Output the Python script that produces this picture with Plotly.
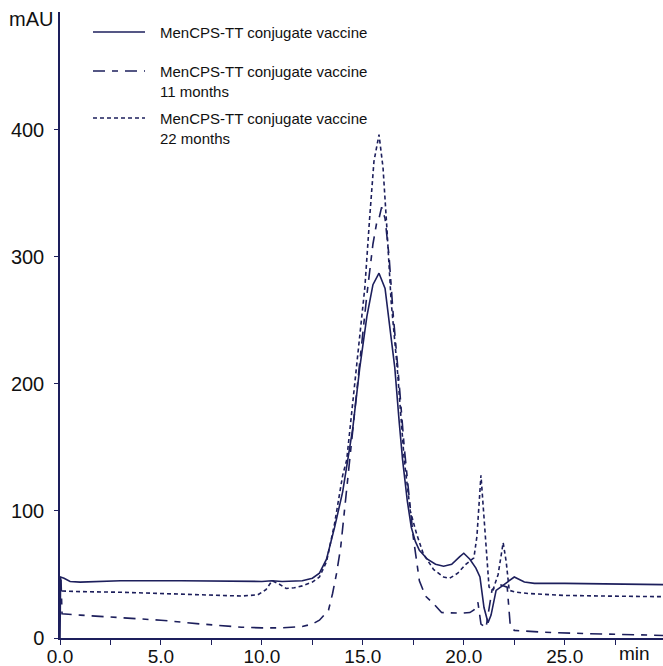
import plotly.graph_objects as go

# ---- data ----
fresh_t = [0.0, 0.03, 0.2, 0.5, 1.0, 3.0, 6.0, 9.0, 10.0, 10.5, 11.0, 12.0, 12.5, 12.85, 13.2,
           13.6, 14.0, 14.25, 14.5, 14.85, 15.2, 15.5, 15.8, 16.1, 16.35, 16.58, 16.8, 16.97,
           17.2, 17.4, 17.6, 17.8, 18.2, 18.6, 19.0, 19.4, 19.8, 20.0, 20.3, 20.6, 20.8, 21.0,
           21.2, 21.35, 21.6, 22.0, 22.5, 23.0, 23.5, 25.0, 27.0, 29.9]
fresh_y = [0.0, 48.0, 47.0, 44.5, 44.0, 45.0, 45.0, 44.5, 44.5, 45.0, 44.5, 45.0, 47.0, 51.0, 62.0,
           87.0, 115.0, 140.0, 165.0, 213.0, 253.0, 278.0, 287.0, 275.0, 245.0, 213.0, 170.0, 140.0,
           108.0, 87.0, 76.0, 69.0, 62.0, 58.0, 56.5, 58.0, 64.0, 66.7, 62.0, 55.0, 48.0, 24.0,
           12.0, 18.0, 37.5, 42.0, 48.0, 44.0, 43.0, 43.0, 42.5, 42.0]

m11_t = [0.05, 0.1, 1.0, 3.0, 5.0, 7.0, 9.0, 10.0, 11.0, 12.0, 12.5, 12.85, 13.3, 13.5, 13.7,
         13.9, 14.0, 14.3, 14.6, 14.9, 15.2, 15.5, 15.7, 15.8, 15.93, 16.1, 16.3, 16.5, 16.8,
         17.05, 17.3, 17.5, 17.8, 18.1, 18.5, 18.9, 19.9, 20.3, 20.5, 20.7, 20.85, 21.1, 21.4,
         21.8, 22.15, 22.3, 22.5, 24.0, 26.0, 29.9]
m11_y = [46.0, 19.0, 18.0, 16.0, 14.0, 11.0, 8.5, 8.0, 8.0, 9.0, 11.0, 14.0, 22.0, 35.0, 51.0,
         71.0, 87.0, 130.0, 180.0, 225.0, 270.0, 310.0, 328.0, 330.0, 339.0, 330.0, 300.0, 255.0, 200.0,
         150.0, 110.0, 79.0, 45.0, 33.0, 27.0, 20.0, 19.5, 20.0, 22.0, 28.0, 11.0, 8.0, 38.0,
         42.0, 40.0, 10.0, 6.0, 4.5, 3.5, 2.0]

m22_t = [0.1, 1.0, 3.0, 5.0, 7.0, 9.0, 9.8, 10.2, 10.5, 10.8, 11.2, 11.6, 12.0, 12.5, 12.85,
         13.2, 13.6, 14.0, 14.2, 14.7, 15.1, 15.33, 15.55, 15.8, 16.0, 16.2, 16.4, 16.7, 17.05,
         17.35, 17.66, 18.0, 18.5, 19.0, 19.3, 19.7, 20.1, 20.5, 20.65, 20.85, 21.05, 21.25,
         21.45, 21.7, 21.95, 22.1, 22.25, 22.6, 23.2, 25.0, 27.0, 29.9]
m22_y = [37.0, 36.5, 36.0, 35.0, 34.0, 33.0, 34.0, 38.0, 45.0, 43.0, 39.0, 39.5, 41.0, 44.0, 48.0,
         60.0, 90.0, 128.0, 140.0, 213.0, 276.0, 329.0, 375.0, 396.0, 370.0, 320.0, 265.0, 213.0, 140.0,
         100.0, 82.0, 66.0, 54.0, 48.0, 47.0, 51.0, 58.0, 63.0, 80.0, 128.0, 80.0, 40.0,
         38.0, 50.0, 75.0, 60.0, 37.5, 36.0, 35.0, 33.5, 33.0, 32.5]

series_names = ["MenCPS-TT conjugate vaccine",
                "MenCPS-TT conjugate vaccine<br>11 months",
                "MenCPS-TT conjugate vaccine<br>22 months"]
x_tick_vals = [0, 2.5, 5, 7.5, 10, 12.5, 15, 17.5, 20, 22.5, 25, 27.5]
x_tick_text = ["0.0", "", "5.0", "", "10.0", "", "15.0", "", "20.0", "", "25.0", ""]
y_tick_vals = [0, 100, 200, 300, 400]

# ---- styling ----
NAVY = "#1d1f5c"
FONT = "Liberation Sans, Arial"
dashes = ["solid", "12px,7px,6px,7px", "4px,3px"]
W, H = 663, 666
L, R, T, B = 60, 0, 12, 28
pw, ph = W - L - R, H - T - B
XMAX = pw / 20.19
YMAX = ph / 1.271

fig = go.Figure()
for t, y, nm, ds in zip([fresh_t, m11_t, m22_t], [fresh_y, m11_y, m22_y], series_names, dashes):
    fig.add_trace(go.Scatter(x=t, y=y, mode="lines", name=nm, showlegend=False,
                             line=dict(color=NAVY, width=1.6, dash=ds)))

# manual legend (pixel positions converted to paper coordinates)
def px(xp):
    return (xp - L) / pw
def py(yp):
    return (H - B - yp) / ph

legend_rows = [32, 71, 118]
for yy, nm, ds in zip(legend_rows, series_names, dashes):
    fig.add_shape(type="line", xref="paper", yref="paper",
                  x0=px(93), x1=px(145), y0=py(yy), y1=py(yy),
                  line=dict(color=NAVY, width=1.6, dash=ds))
    fig.add_annotation(xref="paper", yref="paper", x=px(158), y=py(yy - 10),
                       xanchor="left", yanchor="top", text=nm, showarrow=False, align="left",
                       font=dict(family=FONT, size=15, color="#111"))

fig.add_annotation(xref="paper", yref="paper", x=px(31), y=py(19), text="mAU", showarrow=False,
                   xanchor="center", yanchor="middle",
                   font=dict(family=FONT, size=20, color="#111"))
fig.add_annotation(xref="x", yref="paper", x=28.45, y=py(654), text="min", showarrow=False,
                   xanchor="center", yanchor="middle",
                   font=dict(family=FONT, size=19, color="#111"))

fig.update_layout(
    width=W, height=H, template="none",
    margin=dict(l=L, r=R, t=T, b=B, pad=0),
    paper_bgcolor="white", plot_bgcolor="white",
    font=dict(family=FONT, size=19, color="#111"),
    xaxis=dict(range=[0, XMAX], tickvals=x_tick_vals, ticktext=x_tick_text,
               showgrid=False, zeroline=False, showline=True, linecolor=NAVY, linewidth=1.5,
               ticks="outside", ticklen=5, tickcolor=NAVY, automargin=False,
               ticklabelstandoff=-5, tickfont=dict(size=19)),
    yaxis=dict(range=[0, YMAX], tickvals=y_tick_vals,
               showgrid=False, zeroline=False, showline=True, linecolor=NAVY, linewidth=1.5,
               ticks="outside", ticklen=4, tickcolor=NAVY, automargin=False,
               ticklabelstandoff=6, tickfont=dict(size=20)),
)

fig.write_html("out.html", config={"displayModeBar": False},
               post_script="document.body.style.margin='0';document.body.style.padding='0';"
                           "document.documentElement.style.overflow='hidden';")
